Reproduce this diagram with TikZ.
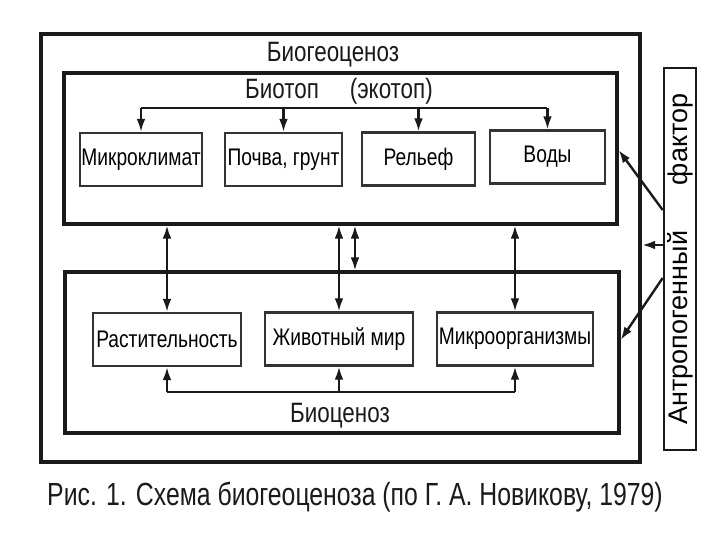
\documentclass[tikz,border=0pt]{standalone}
\usepackage{fontspec}
\newfontfamily\narrowsf[FakeStretch=0.8]{Liberation Sans}
\newfontfamily\capsf[FakeStretch=0.775]{Liberation Sans}
\newfontfamily\widesf{Liberation Sans}
\usepackage{tikz}
\usetikzlibrary{arrows.meta, positioning}
\definecolor{INK}{HTML}{1A1A1A}
\definecolor{BOXLINE}{HTML}{333333}

\tikzset{
  frame/.style={draw=INK, line width=1.6pt, inner sep=0pt},
  part/.style={draw=BOXLINE, line width=1.2pt, inner sep=0pt, minimum height=26.5pt,
    font=\narrowsf\fontsize{12}{14}\selectfont},
  title/.style={font=\narrowsf\fontsize{14}{16}\selectfont, text=INK},
  link/.style={draw=INK, line width=1.1pt},
  arr/.style={link, -{Latex[length=6.5pt, width=4.4pt]}},
  darr/.style={link, {Latex[length=6.5pt, width=4.4pt]}-{Latex[length=6.5pt, width=4.4pt]}}
}

\begin{document}
\begin{tikzpicture}[x=0.5pt, y=-0.5pt]
      \useasboundingbox[fill=white] (0,0) rectangle (720,540);

      % Frames
      \node[frame, line width=2.1pt, minimum width=299.5pt, minimum height=214pt] (outer) at (340.5,248) {};
      \node[frame, minimum width=276.5pt, minimum height=75.5pt] (biotop) at (340.5,148.5) {};
      \node[frame, minimum width=277pt, minimum height=80.5pt] (biocen) at (342,352.5) {};

      % Titles
      \node[title] (tbgc) at (333,55) {Биогеоценоз};
      \node[title] (tbt) at (339,91) {Биотоп\hspace{1.1em}(экотоп)};
      \node[title] (tbc) at (340,416) {Биоценоз};

      % Biotope parts
      \node[part, minimum width=61pt] (mk) at (141,159.5) {Микроклимат};
      \node[part, minimum width=58.5pt] (pg) at (283.5,159.5) {Почва, грунт};
      \node[part, minimum width=56.5pt] (rf) at (418.5,159) {Рельеф};
      \node[part, minimum width=57.5pt] (vd) at (547.5,157) {Воды};

      % Biocenosis parts
      \node[part, minimum width=74pt] (rs) at (167,339.5) {Растительность};
      \node[part, minimum width=74pt] (zm) at (339,339) {Животный мир};
      \node[part, minimum width=78pt] (mo) at (515,339) {Микроорганизмы};

      % Anthropogenic factor
      \node[frame, line width=1.3pt, rotate=90, minimum width=191pt, minimum height=16pt,
        font=\widesf\fontsize{13.5}{15}\selectfont] (antro) at (680,259) {Антропогенный\hspace{1.7em}фактор};

      % Buses
      \coordinate (topbus) at (0,108);
      \coordinate (botbus) at (0,392);
      \draw[link] (mk.north |- topbus) -- (vd.north |- topbus);
      \foreach \p in {mk,pg,rf,vd}
        \draw[arr] (\p.north |- topbus) -- (\p.north);
      \draw[link] (rs.south |- botbus) -- (mo.south |- botbus);
      \foreach \p in {rs,zm,mo}
        \draw[arr] (\p.south |- botbus) -- (\p.south);

      % Biotope <-> biocenosis
      \foreach \p in {rs,zm,mo}
        \draw[darr] (\p.north |- biotop.south) -- (\p.north);
      \draw[darr] ([xshift=8pt]zm.north |- biotop.south) -- ([xshift=8pt]zm.north |- biocen.north);

      % Anthropogenic arrows
      \draw[arr, line width=1.2pt] (antro.north |- {(0,210)}) -- (biotop.east |- {(0,150)});
      \draw[arr, line width=1.2pt] (antro.north |- {(0,245)}) -- (outer.east |- {(0,245)});
      \draw[arr, line width=1.2pt] (antro.north |- {(0,278)}) -- (biocen.east |- {(0,340)});

      % Caption
      \node[font=\capsf\fontsize{16}{18}\selectfont, text=INK] (cap) at (355,497)
        {Рис. 1. Схема биогеоценоза (по Г. А. Новикову, 1979)};
    \end{tikzpicture}
\end{document}
